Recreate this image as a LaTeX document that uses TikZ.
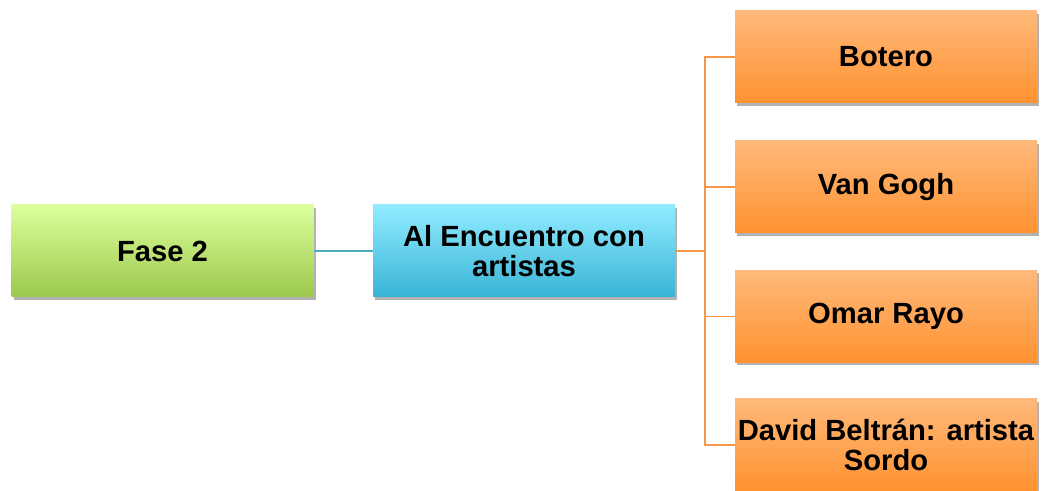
\documentclass[tikz,border=0pt]{standalone}
\usepackage{fontspec}
\setmainfont{Liberation Sans}
\usepackage{tikz}
\usetikzlibrary{shadows}

\definecolor{greentop}{HTML}{DCFF9C}
\definecolor{greenbot}{HTML}{9CC84C}
\definecolor{bluetop}{HTML}{92ECFF}
\definecolor{bluebot}{HTML}{38B4D6}
\definecolor{orangetop}{HTML}{FFB97A}
\definecolor{orangebot}{HTML}{FF9230}
\definecolor{blueline}{HTML}{4BACC6}
\definecolor{orangeline}{HTML}{F79646}

\begin{document}
\begin{tikzpicture}[x=0.75pt,y=-0.75pt]
		\tikzstyle{box}=[rectangle, minimum width=226.5pt, minimum height=69pt, inner sep=1pt,
			align=center, font=\fontsize{21.9}{22.8}\selectfont\bfseries,
			drop shadow={shadow xshift=1.5pt, shadow yshift=-2pt, opacity=0.3, fill=black}]
		\tikzstyle{phase}=[box, top color=greentop, bottom color=greenbot]
		\tikzstyle{topic}=[box, top color=bluetop, bottom color=bluebot]
		\tikzstyle{artist}=[box, top color=orangetop, bottom color=orangebot]
		\tikzstyle{link}=[line width=1.2pt]

		\useasboundingbox (0,0) rectangle (1042,491);

		\node [phase] (fase) at (162.5,251) {Fase 2};
		\node [topic] (enc) at (524,251) {Al Encuentro con\\artistas};
		\node [artist] (bot) at (886,57) {Botero};
		\node [artist] (van) at (886,187) {Van Gogh};
		\node [artist] (omar) at (886,316.5) {Omar Rayo};
		\node [artist] (david) at (886,445) {David Beltrán: artista\\Sordo};
		\coordinate (j) at (705,251);

		\draw [link, blueline] (fase) -- (enc);
		\draw [link, orangeline] (enc) -- (j);
		\draw [link, orangeline] (j) |- (bot);
		\draw [link, orangeline] (j) |- (van);
		\draw [link, orangeline] (j) |- (omar);
		\draw [link, orangeline] (j) |- (david);
	\end{tikzpicture}
\end{document}
